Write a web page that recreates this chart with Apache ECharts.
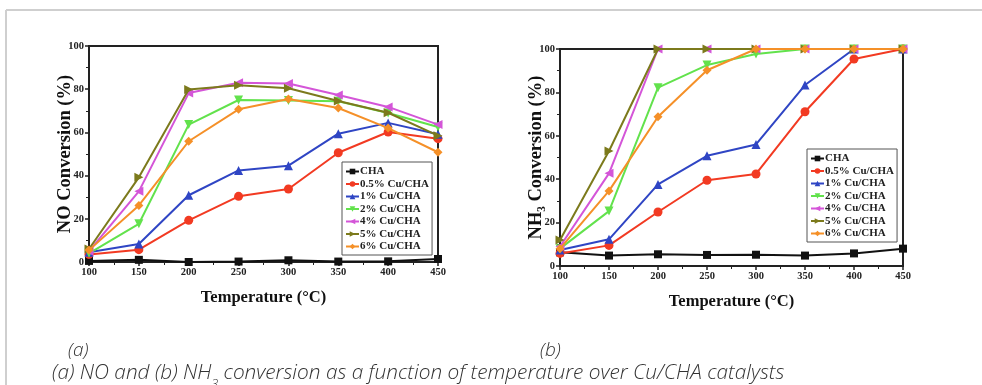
<!DOCTYPE html>
<html><head><meta charset="utf-8">
<script src="https://cdn.jsdelivr.net/npm/echarts@6/dist/echarts.min.js"></script>
<style>html,body{margin:0;padding:0;background:#fff}#c{width:982px;height:385px}</style>
</head><body><div id="c"></div>
<script>
const temps = [100,150,200,250,300,350,400,450];
const seriesNames = ['CHA','0.5% Cu/CHA','1% Cu/CHA','2% Cu/CHA','4% Cu/CHA','5% Cu/CHA','6% Cu/CHA'];
// (a) NO conversion (%)
const noCHA  = [0.5,1,0,0.2,0.8,0.2,0.3,1.4];
const no05   = [3.5,5.7,19.3,30.4,33.8,50.6,60.2,57.1];
const no1    = [4.5,8.3,30.9,42.4,44.6,59.4,64.4,59.1];
const no2    = [4,17.7,63.6,75,74.8,74.4,69,62.5];
const no4    = [5,32.7,78.2,83,82.6,77.3,71.8,63.6];
const no5    = [6,39.2,79.9,81.8,80.4,74.5,69.1,58.5];
const no6    = [5.5,26.2,55.9,70.7,75.5,71.3,62,50.8];
// (b) NH3 conversion (%)
const nhCHA  = [6.3,4.8,5.4,5.1,5.2,4.8,5.8,8];
const nh05   = [5.8,9.5,24.9,39.5,42.4,71.1,95.4,100];
const nh1    = [7.4,12.3,37.6,50.8,56,83.4,100,100];
const nh2    = [8,25.3,82.2,92.6,97.7,100,100,100];
const nh4    = [9,42.7,100,100,100,100,100,100];
const nh5    = [12,53,100,100,100,100,100,100];
const nh6    = [8,34.6,68.8,90.2,100,100,100,100];

const colors = ['#111111','#f23a22','#2f45c4','#62e24c','#d455d8','#7c7a1c','#f59028'];
const symbols = ['rect','circle','triangle','triangle','triangle','triangle','diamond'];
const rotates = [0,0,0,180,90,-90,0];
const noData = [noCHA,no05,no1,no2,no4,no5,no6];
const nhData = [nhCHA,nh05,nh1,nh2,nh4,nh5,nh6];

const serif = '"Liberation Serif","DejaVu Serif",serif';

function mkSeries(data, idx){
  return seriesNames.map((n,i)=>({
    name:n, type:'line', xAxisIndex:idx, yAxisIndex:idx,
    data: temps.map((t,k)=>[t,data[i][k]]),
    symbol:symbols[i], symbolRotate:rotates[i], symbolSize: i===0?8:9,
    lineStyle:{color:colors[i],width:2}, itemStyle:{color:colors[i]},
    animation:false, z: 2+i
  }));
}
function xAx(idx){
  return {type:'value', gridIndex:idx, min:100, max:450, interval:50,
    name:'Temperature (°C)', nameLocation:'middle', nameGap:27, nameMoveOverlap:false,
    nameTextStyle:{fontFamily:serif,fontWeight:'bold',fontSize:16.5,color:'#111'},
    axisLine:{lineStyle:{color:'#222',width:2}},
    axisTick:{show:true,length:4,lineStyle:{color:'#222',width:1.5}},
    minorTick:{show:true,splitNumber:2,length:3,lineStyle:{color:'#222'}},
    axisLabel:{fontFamily:serif,fontWeight:'bold',fontSize:10.5,color:'#222',margin:5},
    splitLine:{show:false}};
}
function yAx(idx,name,gap){
  return {type:'value', gridIndex:idx, min:0, max:100, interval:20,
    name:name, nameLocation:'middle', nameGap:gap, nameRotate:90, nameMoveOverlap:false,
    nameTextStyle:{fontFamily:serif,fontWeight:'bold',fontSize:18.5,color:'#111'},
    axisLine:{lineStyle:{color:'#222',width:2}},
    axisTick:{show:true,length:4,lineStyle:{color:'#222',width:1.5}},
    minorTick:{show:true,splitNumber:2,length:3,lineStyle:{color:'#222'}},
    axisLabel:{fontFamily:serif,fontWeight:'bold',fontSize:10.5,color:'#222',margin:5},
    splitLine:{show:false}};
}
function lg(left,top){
  return {data:seriesNames, orient:'vertical', left:left, top:top,
    itemWidth:13, itemHeight:7, itemGap:1.5, padding:[4,3,3,3],
    borderColor:'#555', borderWidth:1, backgroundColor:'#fff',
    textStyle:{fontFamily:serif,fontWeight:'bold',fontSize:11,lineHeight:11,color:'#222',padding:[0,0,0,-4]},
    selectedMode:false};
}
const chart = echarts.init(document.getElementById('c'),null,{renderer:'canvas'});
chart.setOption({
  backgroundColor:'#fff',
  animation:false,
  grid:[
    {left:89, top:46, width:349, height:216, show:true, borderColor:'#222', borderWidth:2, backgroundColor:'transparent'},
    {left:560, top:49, width:343, height:217, show:true, borderColor:'#222', borderWidth:2, backgroundColor:'transparent'}
  ],
  xAxis:[xAx(0), xAx(1)],
  yAxis:[yAx(0,'NO Conversion (%)',14), yAx(1,'NH\u2083 Conversion (%)',14)],
  legend:[lg(342,162), lg(807,149)],
  series: mkSeries(noData,0).concat(mkSeries(nhData,1)),
  graphic:[
    {type:'line', shape:{x1:6,y1:10,x2:982,y2:10}, style:{stroke:'#cfcfcf',lineWidth:2}, silent:true},
    {type:'line', shape:{x1:6,y1:10,x2:6,y2:385}, style:{stroke:'#cfcfcf',lineWidth:2}, silent:true},
    {type:'text', left:68, top:341, style:{text:'(a)', font:'italic 300 19px "Open Sans"', fill:'#333'}},
    {type:'text', left:540, top:341, style:{text:'(b)', font:'italic 300 19px "Open Sans"', fill:'#333'}},
    {type:'text', left:52, top:363, style:{text:'(a) NO and (b) NH{s|3} conversion as a function of temperature over Cu/CHA catalysts',
      font:'italic 300 20.8px "Open Sans"', fill:'#333',
      rich:{s:{font:'italic 300 12px "Open Sans"', fill:'#333', verticalAlign:'bottom', padding:[0,0,-7,0]}}}}
  ]
});
</script></body></html>
